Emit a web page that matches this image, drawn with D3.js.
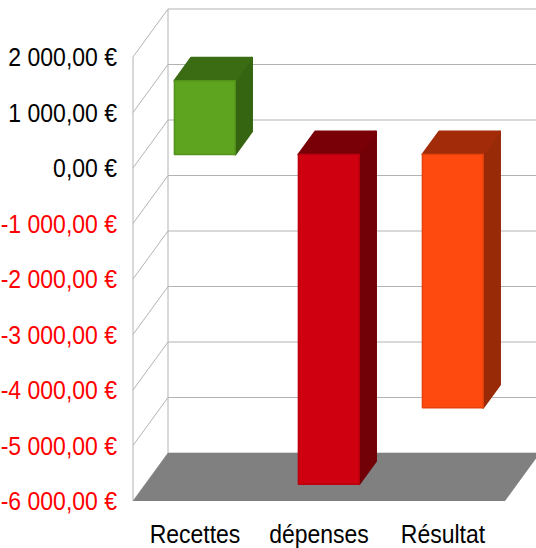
<!DOCTYPE html>
<html>
<head>
<meta charset="utf-8">
<script src="https://cdn.jsdelivr.net/npm/d3@7"></script>
<style>
  body { margin: 0; background: #fff; }
  svg { display: block; font-family: "Liberation Sans", Arial, sans-serif; }
</style>
</head>
<body>
<div class="canvas"></div>
<script>
// data
const categories = ['Recettes', 'dépenses', 'Résultat'];
const values = [1330, -5940, -4560];
const tickValues = [2000, 1000, 0, -1000, -2000, -3000, -4000, -5000, -6000];

// colours per bar: front, top, side
const frontColors = ['#5ea41e', '#cf0010', '#ff4a0f'];
const topColors = ['#3b6c14', '#7a0008', '#a22c09'];
const sideColors = ['#366512', '#720007', '#982a08'];

const width = 536, height = 548;

const svg = d3.select('.canvas')
  .append('svg')
  .attr('width', width)
  .attr('height', height);

// front plane scales
const y = d3.scaleLinear().domain([-6000, 2000]).range([501, 57]);
const x = d3.scaleBand().domain(categories).range([133, 505]);

// 3d offset of the back of the box
const depth = {dx: 35, dy: -48};
const proj = (px, v, z) => [px + z * depth.dx, y(v) + z * depth.dy];

const grid = '#b3b3b3';
const [x0, x1] = x.range();
const [vMin, vMax] = y.domain();

// left wall: diagonals for each tick + front edge
const walls = svg.append('g');
walls.selectAll('line.diag')
  .data(tickValues)
  .enter().append('line')
  .attr('class', 'diag')
  .attr('x1', x0).attr('y1', d => y(d))
  .attr('x2', x0 + depth.dx).attr('y2', d => y(d) + depth.dy)
  .attr('stroke', grid);

// back wall horizontals
walls.selectAll('line.back')
  .data(tickValues)
  .enter().append('line')
  .attr('class', 'back')
  .attr('x1', x0 + depth.dx).attr('y1', d => y(d) + depth.dy)
  .attr('x2', x1 + depth.dx).attr('y2', d => y(d) + depth.dy)
  .attr('stroke', grid);

walls.append('line')
  .attr('x1', x0).attr('y1', y(vMax))
  .attr('x2', x0).attr('y2', y(vMin))
  .attr('stroke', grid);
walls.append('line')
  .attr('x1', x0 + depth.dx).attr('y1', y(vMax) + depth.dy)
  .attr('x2', x0 + depth.dx).attr('y2', y(vMin) + depth.dy)
  .attr('stroke', grid);

// floor
const floorPts = [proj(x0, vMin, 0), proj(x1, vMin, 0), proj(x1, vMin, 1), proj(x0, vMin, 1)];
svg.append('polygon')
  .attr('points', floorPts.map(p => p.join(',')).join(' '))
  .attr('fill', '#808080');

// bars as boxes
const zFront = 0.28, zBack = 0.76;
const barW = x.bandwidth() * 0.49;

const bars = svg.selectAll('g.bar')
  .data(categories.map((c, i) => ({name: c, value: values[i], i})))
  .enter().append('g')
  .attr('class', 'bar');

const pts = arr => arr.map(p => p.join(',')).join(' ');

bars.each(function(d) {
  const g = d3.select(this);
  const left = x(d.name) + (x.bandwidth() - barW) / 2;
  const right = left + barW;
  const top = Math.max(d.value, 0), bottom = Math.min(d.value, 0);

  // side face
  g.append('polygon')
    .attr('points', pts([proj(right, top, zFront), proj(right, top, zBack), proj(right, bottom, zBack), proj(right, bottom, zFront)]))
    .attr('fill', sideColors[d.i])
    .attr('stroke', sideColors[d.i]).attr('stroke-width', 2).attr('stroke-linejoin', 'round');
  // top face
  g.append('polygon')
    .attr('points', pts([proj(left, top, zFront), proj(right, top, zFront), proj(right, top, zBack), proj(left, top, zBack)]))
    .attr('fill', topColors[d.i])
    .attr('stroke', topColors[d.i]).attr('stroke-width', 2).attr('stroke-linejoin', 'round');
  // front face
  g.append('polygon')
    .attr('points', pts([proj(left, top, zFront), proj(right, top, zFront), proj(right, bottom, zFront), proj(left, bottom, zFront)]))
    .attr('fill', frontColors[d.i])
    .attr('stroke', d3.color(frontColors[d.i]).darker(0.3)).attr('stroke-width', 1.5).attr('stroke-linejoin', 'round');
});

// axes
const locale = d3.formatLocale({
  decimal: ',', thousands: '\u00a0', grouping: [3], currency: ['', '\u00a0€'], minus: '-'
});
const fmt = locale.format('$,.2f');

// the labels in the picture are a little taller than the font, so stretch them slightly
const yAxis = d3.axisLeft(y).tickValues(tickValues).tickFormat(fmt).tickSize(0).tickPadding(0);
const yAxisGroup = svg.append('g').attr('transform', 'translate(117,0)').call(yAxis);
yAxisGroup.select('.domain').remove();
yAxisGroup.selectAll('text')
  .attr('font-family', '"Liberation Sans", Arial, sans-serif')
  .attr('font-size', 23)
  .attr('dy', '0.35em')
  .attr('transform', 'scale(1,1.1)')
  .attr('fill', d => d < 0 ? '#ff0000' : '#000');

const xAxis = d3.axisBottom(x).tickSize(0).tickPadding(0);
const xAxisGroup = svg.append('g').attr('transform', 'translate(0,525)').call(xAxis);
xAxisGroup.select('.domain').remove();
xAxisGroup.selectAll('text')
  .attr('font-family', '"Liberation Sans", Arial, sans-serif')
  .attr('font-size', 23)
  .attr('transform', 'scale(1,1.1)')
  .attr('fill', '#000');
</script>
</body>
</html>
